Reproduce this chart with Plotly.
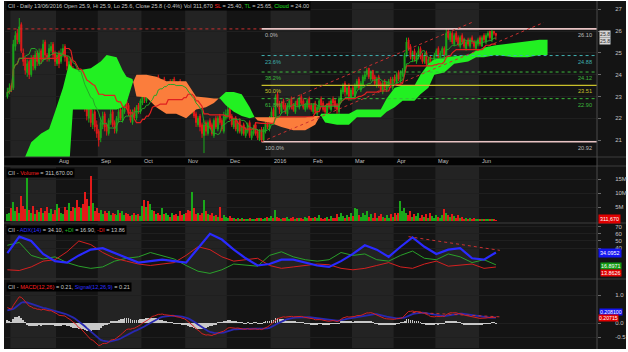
import numpy as np
import pandas as pd
import plotly.graph_objects as go

W, H = 628, 352

# ---------------- data ----------------
holidays = ['2015-12-25', '2016-01-01', '2016-03-25', '2016-03-28']

open_ = [
23.0,23.2,23.5,23.4,25.3,25.9,25.5,26.3,25.0,24.7,
24.1,24.6,24.0,24.8,24.3,25.0,24.5,25.1,24.7,25.5,
24.9,24.7,25.1,25.4,25.0,24.5,25.0,24.6,24.9,25.3,
24.8,24.3,24.7,24.3,23.8,24.2,23.6,23.1,23.7,23.0,
22.7,22.0,22.6,21.7,22.3,21.7,21.4,21.1,21.7,22.2,
21.7,21.3,21.8,22.3,21.8,21.4,21.9,22.4,21.9,22.3,
22.8,22.6,22.3,21.8,22.4,22.0,22.6,22.3,22.7,23.1,
22.8,23.4,23.0,23.4,23.8,23.3,23.9,23.7,23.4,23.8,
23.2,23.4,23.7,23.3,23.8,23.6,23.2,23.7,23.5,23.1,
23.5,23.1,22.9,22.3,22.7,22.2,21.7,22.1,21.7,21.2,
21.8,21.3,21.9,21.7,21.2,22.0,21.5,22.1,21.9,21.4,
22.0,22.1,22.5,22.1,21.6,22.0,21.4,21.9,21.3,21.7,
21.2,21.4,21.8,21.1,21.3,21.7,21.4,21.0,21.5,21.0,
21.4,21.9,21.5,22.0,22.4,22.0,23.1,22.7,22.3,22.8,
22.6,22.2,22.5,22.9,22.6,22.3,22.8,22.5,23.0,22.8,
22.4,22.5,22.9,22.6,22.3,22.7,22.2,22.4,22.9,22.7,
22.5,22.2,22.7,22.4,22.9,22.8,22.6,22.3,22.8,23.2,
23.6,23.1,23.5,22.9,23.4,23.0,23.4,23.8,23.3,23.5,
23.8,24.0,24.3,23.8,24.2,23.9,23.5,23.9,23.6,23.2,
23.7,23.3,23.5,23.8,23.4,23.9,23.6,24.1,23.7,24.0,
24.2,24.9,25.6,25.3,24.7,25.1,24.6,24.8,25.2,24.9,
24.6,25.0,24.4,24.8,24.3,24.5,24.9,25.2,24.7,25.0,
25.2,24.9,26.0,25.6,25.9,25.4,25.9,25.7,25.3,25.8,
25.6,25.2,25.6,25.3,25.7,25.5,25.2,25.4,25.7,25.3,
25.8,25.5,25.8,26.0,25.6,26.0,25.9]

high = [
23.4,23.6,23.6,25.6,26.0,26.1,26.6,26.4,25.2,24.8,
24.7,24.7,24.9,24.9,25.1,25.1,25.2,25.2,25.6,25.6,
25.0,25.4,25.5,25.5,25.1,25.0,25.1,25.2,25.4,25.4,
24.9,24.8,24.8,24.4,24.3,24.3,23.8,23.8,23.8,23.2,
22.8,22.7,22.8,22.4,22.4,21.9,21.5,22.0,22.3,22.3,
21.8,22.0,22.4,22.4,21.9,22.1,22.5,22.5,22.5,22.9,
22.9,22.7,22.4,22.4,22.5,22.6,22.7,22.9,23.2,23.2,
23.5,23.5,23.6,23.8,23.9,23.9,24.0,23.8,23.8,23.9,
23.6,23.7,23.8,23.8,23.9,23.7,23.7,23.8,23.6,23.5,
23.6,23.2,23.0,22.8,22.8,22.3,22.1,22.2,21.8,21.9,
21.9,21.9,22.0,21.8,22.0,22.1,22.1,22.2,22.0,22.3,
22.4,22.6,22.6,22.2,22.0,22.1,21.9,22.0,21.7,21.8,
21.6,21.8,21.9,21.5,21.7,21.8,21.5,21.5,21.6,21.6,
21.9,22.0,22.1,22.5,22.5,23.1,23.2,22.8,22.8,22.9,
22.7,22.7,22.9,23.0,22.7,22.8,22.9,23.0,23.1,22.9,
22.7,22.9,23.0,22.7,22.7,22.8,22.6,22.9,23.0,22.8,
22.6,22.7,22.8,22.9,23.0,22.9,22.7,23.0,23.4,23.6,
23.7,23.5,23.6,23.4,23.5,23.6,23.8,23.9,23.7,24.0,
24.1,24.3,24.3,24.2,24.2,24.0,23.9,24.0,23.7,23.7,
23.8,23.7,23.8,23.9,23.9,24.0,24.1,24.2,24.2,24.3,
25.0,25.7,25.7,25.4,25.1,25.2,25.0,25.3,25.3,25.0,
25.0,25.1,24.8,24.9,24.7,25.0,25.2,25.3,25.1,25.3,
25.3,26.1,26.1,26.0,26.0,25.9,26.0,25.8,25.8,25.9,
25.7,25.6,25.7,25.7,25.8,25.6,25.6,25.7,25.8,25.8,
25.9,25.9,26.0,26.0,26.05,26.0,25.9]

low = [
22.9,23.1,23.2,23.3,25.1,25.4,25.4,25.0,24.4,24.0,
23.9,23.8,23.9,24.2,24.2,24.4,24.4,24.5,24.6,24.7,
24.6,24.6,25.0,24.7,24.4,24.4,24.3,24.5,24.8,24.6,
24.2,24.2,24.0,23.7,23.6,23.3,22.9,23.0,22.7,22.3,
21.9,21.8,21.6,21.5,21.4,21.1,20.7,20.9,21.5,21.4,
21.2,21.2,21.7,21.6,21.3,21.3,21.8,21.9,21.8,22.2,
22.4,22.1,21.8,21.7,22.0,21.9,22.2,22.2,22.6,22.7,
22.7,23.0,22.9,23.3,23.3,23.2,23.5,23.4,23.3,23.2,
23.1,23.3,23.3,23.2,23.4,23.2,23.1,23.3,23.1,23.0,
22.9,22.6,22.3,22.2,22.0,21.6,21.6,21.4,21.1,20.4,
21.2,21.2,21.5,21.2,21.1,21.5,21.4,21.7,21.4,21.3,
21.9,22.0,21.9,21.6,21.5,21.4,21.3,21.3,21.2,21.2,
21.1,21.3,21.1,21.0,21.2,21.2,21.0,20.95,20.92,20.95,
21.3,21.5,21.4,21.9,22.0,21.9,22.5,22.2,22.2,22.4,
22.2,22.1,22.4,22.4,22.3,22.2,22.5,22.4,22.6,22.4,
22.3,22.4,22.4,22.3,22.2,22.2,22.1,22.3,22.5,22.3,
22.1,22.1,22.4,22.3,22.6,22.4,22.2,22.2,22.7,23.1,
23.0,23.0,22.8,22.8,23.0,22.9,23.3,23.3,23.2,23.4,
23.7,23.9,23.8,23.7,23.7,23.5,23.4,23.4,23.2,23.1,
23.3,23.2,23.4,23.4,23.3,23.6,23.5,23.7,23.6,23.9,
24.1,24.8,25.1,24.7,24.6,24.6,24.5,24.7,24.7,24.5,
24.5,24.4,24.3,24.2,24.2,24.4,24.8,24.7,24.6,24.9,
24.8,24.7,25.6,25.5,25.4,25.3,25.5,25.3,25.2,25.4,
25.2,25.1,25.3,25.2,25.4,25.2,25.1,25.3,25.3,25.3,
25.5,25.4,25.7,25.6,25.5,25.8,25.6]

close = [
23.2,23.4,23.3,25.4,25.8,25.6,26.2,25.1,24.6,24.2,
24.5,24.0,24.7,24.4,24.9,24.6,25.0,24.7,25.4,24.9,
24.8,25.2,25.3,24.9,24.6,24.9,24.5,25.0,25.2,24.8,
24.4,24.6,24.2,23.9,24.1,23.5,23.2,23.6,22.9,22.6,
22.1,22.5,21.8,22.2,21.6,21.3,21.0,21.8,22.1,21.6,
21.4,21.9,22.2,21.7,21.5,22.0,22.3,22.0,22.4,22.7,
22.5,22.2,21.9,22.3,22.1,22.5,22.4,22.8,23.0,22.9,
23.3,23.1,23.5,23.7,23.4,23.8,23.6,23.5,23.7,23.3,
23.5,23.6,23.4,23.7,23.5,23.3,23.6,23.4,23.2,23.4,
23.0,22.8,22.4,22.6,22.1,21.8,22.0,21.6,21.3,21.7,
21.4,21.8,21.6,21.3,21.9,21.6,22.0,21.8,21.5,22.1,
22.2,22.4,22.0,21.7,21.9,21.5,21.8,21.4,21.6,21.3,
21.5,21.7,21.2,21.4,21.6,21.3,21.1,21.4,21.0,21.5,
21.8,21.6,22.0,22.3,22.1,23.0,22.6,22.4,22.7,22.5,
22.3,22.6,22.8,22.5,22.4,22.7,22.6,22.9,22.7,22.5,
22.6,22.8,22.5,22.4,22.6,22.3,22.5,22.8,22.6,22.4,
22.3,22.6,22.5,22.8,22.7,22.5,22.4,22.9,23.3,23.5,
23.2,23.4,23.0,23.3,23.1,23.5,23.7,23.4,23.6,23.9,
24.0,24.2,23.9,24.1,23.8,23.6,23.8,23.5,23.3,23.6,
23.4,23.6,23.7,23.5,23.8,23.7,24.0,23.8,24.1,24.2,
24.9,25.5,25.2,24.8,25.0,24.7,24.9,25.1,24.8,24.6,
24.9,24.5,24.7,24.3,24.6,24.9,25.1,24.8,25.0,25.2,
24.9,25.9,25.7,25.9,25.5,25.8,25.6,25.4,25.7,25.5,
25.3,25.5,25.4,25.6,25.5,25.3,25.5,25.6,25.4,25.7,
25.6,25.8,25.9,25.7,26.0,25.9,25.8]

volume_m = [
2.5,3.0,4.5,6.8,3.5,5.0,2.8,9.0,5.5,4.2,
15.4,4.0,3.0,5.5,2.5,4.0,3.2,4.5,2.8,3.5,
5.0,3.0,4.2,2.5,3.8,6.0,4.5,3.0,2.6,5.0,
4.0,6.5,3.5,5.0,4.5,7.5,5.0,4.6,6.0,10.4,
8.0,5.5,16.0,6.5,3.5,4.5,3.0,4.0,2.5,3.5,
2.8,3.5,2.2,3.0,2.5,2.0,4.0,2.8,3.5,2.2,
3.0,2.5,1.8,2.2,3.0,2.0,2.5,1.8,5.5,7.5,
5.0,7.0,6.0,4.0,3.5,2.5,3.0,2.0,4.5,2.5,
3.0,2.2,1.5,3.0,2.0,2.5,1.8,3.5,2.0,2.5,
3.0,4.0,3.5,10.4,4.5,2.5,3.0,2.0,3.0,7.5,
3.5,2.5,2.0,3.0,1.8,2.2,1.5,5.0,1.2,2.0,
1.5,1.2,1.8,1.0,1.2,0.8,1.0,0.7,0.9,0.6,
0.8,0.6,0.9,0.7,0.8,0.5,0.9,1.0,1.2,0.8,
1.0,1.4,1.2,1.8,1.0,4.0,1.5,1.0,0.8,1.2,
0.9,1.3,0.8,1.0,1.5,0.7,1.2,0.9,1.1,0.8,
1.5,1.0,1.8,1.2,0.9,1.4,1.0,2.0,1.2,0.8,
1.0,1.5,0.8,1.8,1.2,1.0,2.5,1.5,3.0,1.8,
1.2,2.0,1.5,2.8,1.8,4.8,4.2,2.0,1.5,3.0,
2.0,3.5,1.5,2.5,1.2,2.8,1.0,1.8,2.5,1.5,
1.2,2.0,1.0,2.5,1.5,3.0,2.0,2.8,7.0,3.5,
4.5,3.0,2.0,3.5,1.5,2.5,1.8,3.0,1.2,2.0,
1.5,2.5,1.0,3.0,1.8,1.2,2.2,1.5,1.0,2.0,
4.3,3.0,2.0,1.5,2.5,1.8,1.2,2.0,1.0,1.5,
0.8,1.2,0.7,1.0,0.6,0.9,0.5,0.8,0.6,0.7,
0.5,0.7,0.4,0.6,0.5,0.4,0.31167]

# Ichimoku cloud (senkou spans) read at sample bars (bar index, can run 26 bars ahead)
cloud_bar = [7,12,17,21,24,28,31,33,36,42,47,50,55,58,60,63,65,70,75,80,85,90,95,100,104,107,
             110,114,118,122,124,126,132,138,144,150,155,158,160,166,172,176,182,188,191,195,
             199,205,208,212,215,220,225,232,236,240,246,255,262,268,272]
span_a = [19.8,20.9,21.3,21.5,22.3,23.4,24.5,24.3,24.2,24.3,24.6,24.9,24.8,24.2,23.9,23.8,23.0,
          22.96,22.5,22.2,22.2,22.0,22.4,22.5,22.7,22.95,23.2,23.2,23.1,22.5,22.1,21.9,21.8,21.6,
          21.45,21.45,21.7,22.2,22.2,22.2,22.2,22.4,22.4,22.4,22.9,23.4,23.5,23.5,24.0,24.5,24.7,
          24.8,24.85,24.9,25.1,25.25,25.35,25.45,25.5,25.6,25.6]
span_b = [19.0,19.0,19.1,19.2,19.3,19.5,19.6,22.4,22.4,22.4,22.4,22.4,22.4,22.5,22.7,23.6,24.0,
          24.0,23.9,23.7,23.7,23.7,23.0,22.95,22.9,22.9,22.6,22.3,22.1,22.0,22.05,22.05,22.05,
          22.05,22.05,22.05,22.1,22.1,21.8,21.7,21.7,22.05,22.05,22.05,22.3,22.5,22.8,22.8,23.1,
          23.4,24.0,24.1,24.5,24.6,24.8,24.8,24.9,24.8,24.8,24.9,24.9]

# ADX(14) panel read at every 6th bar
adx_bar = list(range(0, 247, 6))
adx = [33,56,50,32,22,20,30,38,40,33,26,20,22,24,22,20,40,60,52,38,26,16,18,24,24,20,16,14,
       22,32,44,38,28,42,55,42,32,38,40,26,24,34.1]
plus_di = [44,48,30,25,28,20,15,12,14,22,26,28,34,30,25,16,8,5,10,18,16,15,30,35,28,24,22,24,
           34,30,32,24,22,30,36,26,24,32,28,20,24,16.9]
minus_di = [10,9,14,22,24,35,50,45,34,26,22,18,16,18,20,30,42,38,28,22,24,26,16,12,14,16,18,17,
            12,10,12,16,20,14,12,18,22,15,16,18,12,13.86]

# MACD values shown on the first bar (state carried in from before the window)
macd_first, signal_first = 0.55, 0.45

# Fibonacci retracement
fib_high, fib_low, fib_start_bar = 26.10, 20.92, 128
fib_ratios = [0.0, 0.236, 0.382, 0.5, 0.618, 1.0]
fib_pct = ['0.0%', '23.6%', '38.2%', '50.0%', '61.8%', '100.0%']

# hand-drawn trend lines: (bar0, value0, bar1, value1)
price_channel = [(128, 20.92, 270, 26.39), (135, 22.59, 235, 26.44)]
top_dotted = (0, 26.10, 128, 26.10)
adx_trend = (202, 56.0, 248, 37.0)
macd_trend = (204, 0.38, 248, 0.22)

# ---------------- helpers ----------------
def px(x):
    return x / W

def py(y):
    return 1 - y / H

n = len(close)
dates = pd.bdate_range('2015-06-29', '2016-06-13')
dates = dates[~dates.isin(pd.to_datetime(holidays))][:n]
bars = np.arange(n)

o = np.array(open_[:n]); c = np.array(close[:n])
h = np.maximum.reduce([np.array(high[:n]), o, c])
l = np.minimum.reduce([np.array(low[:n]), o, c])

hs, ls = pd.Series(h), pd.Series(l)
tenkan = (hs.rolling(9, min_periods=1).max() + ls.rolling(9, min_periods=1).min()) / 2
kijun = (hs.rolling(26, min_periods=1).max() + ls.rolling(26, min_periods=1).min()) / 2

# MACD(12,26,9), EMA recursion started from the state shown on the first bar
a12, a26, a9 = 2 / 13, 2 / 27, 2 / 10
e12, e26, sg = c[0], c[0] - macd_first, signal_first
macd, signal = [macd_first], [signal_first]
for v in c[1:]:
    e12 += a12 * (v - e12)
    e26 += a26 * (v - e26)
    m = e12 - e26
    sg += a9 * (m - sg)
    macd.append(m); signal.append(sg)
macd, signal = np.array(macd), np.array(signal)
hist = macd - signal

UP, DN = '#1aa81a', '#e31a1a'
up_mask = c >= o

# month boundaries
month_start = [i for i in range(n) if i == 0 or dates[i].month != dates[i - 1].month]
month_lbl = [('2016' if dates[i].month == 1 else dates[i].strftime('%b')) for i in month_start]

XR = [-1.2, 296.9]
XD = [px(5), px(597)]
panels = {  # name: (ytop px, ybottom px)
    'y': (3, 157), 'y2': (167, 222), 'y3': (224, 278), 'y4': (280, 348)}

fig = go.Figure()

# ---- cloud ----
def segments(xs, a, b):
    out = []
    sx, sa, sb = [xs[0]], [a[0]], [b[0]]
    sign = a[0] >= b[0]
    for i in range(1, len(xs)):
        s = a[i] >= b[i]
        if s != sign:
            d0, d1 = a[i - 1] - b[i - 1], a[i] - b[i]
            t = d0 / (d0 - d1)
            xc = xs[i - 1] + t * (xs[i] - xs[i - 1])
            yc = a[i - 1] + t * (a[i] - a[i - 1])
            sx.append(xc); sa.append(yc); sb.append(yc)
            out.append((sign, sx, sa, sb))
            sx, sa, sb = [xc], [yc], [yc]
            sign = s
        sx.append(xs[i]); sa.append(a[i]); sb.append(b[i])
    out.append((sign, sx, sa, sb))
    return out

for sign, sx, sa, sb in segments(cloud_bar, span_a, span_b):
    fig.add_trace(go.Scatter(x=sx + sx[::-1], y=sa + sb[::-1], fill='toself',
                             fillcolor='#22f022' if sign else '#fb7d3c',
                             line=dict(width=0), mode='lines', hoverinfo='skip',
                             xaxis='x', yaxis='y'))

# ---- fib lines ----
fib_cols = ['#e9c4c4', '#3fb0b0', '#3cb83c', '#c9c02a', '#3cb83c', '#e9c4c4']
fib_dash = ['solid', 'dot', 'dot', 'solid', 'dot', 'solid']
fib_w = [1.6, 1, 1, 1.4, 1, 1.6]
fib_vals = [fib_high - r * (fib_high - fib_low) for r in fib_ratios]
for v, col, d, wd in zip(fib_vals, fib_cols, fib_dash, fib_w):
    fig.add_trace(go.Scatter(x=[fib_start_bar, XR[1]], y=[v, v], mode='lines',
                             line=dict(color=col, width=wd, dash=d), hoverinfo='skip',
                             xaxis='x', yaxis='y'))

# dotted red helper lines
for (x0, y0, x1, y1) in price_channel + [top_dotted]:
    fig.add_trace(go.Scatter(x=[x0, x1], y=[y0, y1], mode='lines',
                             line=dict(color='#c83030', width=1, dash='dot'),
                             hoverinfo='skip', xaxis='x', yaxis='y'))

# ---- tenkan / kijun ----
fig.add_trace(go.Scatter(x=bars, y=kijun, mode='lines', line=dict(color='#e02020', width=1.2),
                         xaxis='x', yaxis='y'))
fig.add_trace(go.Scatter(x=bars, y=tenkan, mode='lines', line=dict(color='#28a428', width=1),
                         xaxis='x', yaxis='y'))

# ---- candles ----
fig.add_trace(go.Candlestick(x=bars, open=o, high=h, low=l, close=c, whiskerwidth=0,
                             increasing=dict(line=dict(color=UP, width=1), fillcolor=UP),
                             decreasing=dict(line=dict(color=DN, width=1), fillcolor=DN),
                             xaxis='x', yaxis='y'))

# ---- volume ----
vcol = [UP if u else DN for u in up_mask]
fig.add_trace(go.Bar(x=bars, y=np.array(volume_m[:n]) * 1e6, marker=dict(color=vcol, line=dict(width=0)),
                     width=0.62, xaxis='x2', yaxis='y2'))

# ---- ADX ----
fig.add_trace(go.Scatter(x=adx_bar, y=plus_di, mode='lines', line=dict(color='#2aa02a', width=1),
                         xaxis='x3', yaxis='y3'))
fig.add_trace(go.Scatter(x=adx_bar, y=minus_di, mode='lines', line=dict(color='#d42020', width=1),
                         xaxis='x3', yaxis='y3'))
fig.add_trace(go.Scatter(x=adx_bar, y=adx, mode='lines', line=dict(color='#2a2aff', width=2.2),
                         xaxis='x3', yaxis='y3'))
x0, y0, x1, y1 = adx_trend
fig.add_trace(go.Scatter(x=[x0, x1], y=[y0, y1], mode='lines',
                         line=dict(color='#c83030', width=1, dash='dot'), xaxis='x3', yaxis='y3'))

# ---- MACD ----
fig.add_trace(go.Bar(x=bars, y=hist, marker=dict(color='#c8c8c8', line=dict(width=0)), width=0.45,
                     xaxis='x4', yaxis='y4'))
fig.add_trace(go.Scatter(x=bars, y=signal, mode='lines', line=dict(color='#2828b0', width=1.8),
                         xaxis='x4', yaxis='y4'))
fig.add_trace(go.Scatter(x=bars, y=macd, mode='lines', line=dict(color='#d42020', width=1),
                         xaxis='x4', yaxis='y4'))
x0, y0, x1, y1 = macd_trend
fig.add_trace(go.Scatter(x=[x0, x1], y=[y0, y1], mode='lines',
                         line=dict(color='#c83030', width=1, dash='dot'), xaxis='x4', yaxis='y4'))

# ---------------- layout ----------------
FONT = 'Liberation Sans, Arial, sans-serif'
TICKF = dict(family=FONT, size=6, color='#c4c4c4')
shapes = []
shapes.append(dict(type='rect', xref='paper', yref='paper', x0=px(4), x1=px(626), y0=py(349), y1=py(1),
                   fillcolor='#141414', line=dict(width=0), layer='below'))
for k, ms in enumerate(month_start):
    if k % 2 == 1:
        me = month_start[k + 1] if k + 1 < len(month_start) else XR[1] + 0.5
        for yname, (yt, yb) in panels.items():
            shapes.append(dict(type='rect', xref='x', yref='paper', x0=ms - 0.5, x1=me - 0.5,
                               y0=py(yb), y1=py(yt), fillcolor='#232323', line=dict(width=0),
                               layer='below'))
shapes.append(dict(type='rect', xref='paper', yref='paper', x0=px(5), x1=px(597), y0=py(166), y1=py(157),
                   fillcolor='#030303', line=dict(width=0), layer='below'))
for yy in [157, 166, 223, 279]:
    shapes.append(dict(type='line', xref='paper', yref='paper', x0=px(4), x1=px(626), y0=py(yy), y1=py(yy),
                       line=dict(color='#3c3c3c', width=1)))
shapes.append(dict(type='line', xref='paper', yref='paper', x0=px(597), x1=px(597), y0=py(349), y1=py(1),
                   line=dict(color='#4a4a4a', width=1)))

ann = []
def lab(x, y, text, color='#c8c8c8', size=5.6, bg=None, xanchor='left', yanchor='middle', pad=1):
    d = dict(xref='paper', yref='paper', x=px(x), y=py(y), text=text, showarrow=False,
             xanchor=xanchor, yanchor=yanchor, font=dict(family=FONT, size=size, color=color))
    if bg:
        d.update(bgcolor=bg, borderpad=pad)
    ann.append(d)

def sp(t, col):
    return f"<span style='color:{col}'>{t}</span>"

lab(6, 5.5, 'CII - Daily 13/06/2016 Open 25.9, Hi 25.9, Lo 25.6, Close 25.8 (-0.4%) Vol 311,670 '
    + sp('SL', '#ff2020') + ' = 25.40, ' + sp('TL', '#20c020') + ' = 25.65, ' + sp('Cloud', '#20e020')
    + ' = 24.00', bg='#000000')
lab(6, 173, 'CII - ' + sp('Volume', '#ff2020') + ' = 311,670.00', bg='#000000')
lab(6, 230, 'CII - ' + sp('ADX(14)', '#3030ff') + ' = 34.10, ' + sp('+DI', '#20c020') + ' = 16.90, '
    + sp('-DI', '#ff2020') + ' = 13.86', bg='#000000')
lab(6, 286.5, 'CII - ' + sp('MACD(12,26)', '#ff2020') + ' = 0.21, ' + sp('Signal(12,26,9)', '#3030ff')
    + ' = 0.21', bg='#000000')

# month labels (the partial first months carry no label)
for ms, t in zip(month_start[2:], month_lbl[2:]):
    ann.append(dict(xref='x', yref='paper', x=ms - 0.5, y=py(161.5), text=t, showarrow=False,
                    xanchor='left', yanchor='middle', xshift=1,
                    font=dict(family=FONT, size=5.6, color='#c0c0c0')))

for v, pct, col in zip(fib_vals, fib_pct, fib_cols):
    tc = '#bdbdbd' if col == '#e9c4c4' else col
    ann.append(dict(xref='x', yref='y', x=fib_start_bar, y=v, text=pct, showarrow=False,
                    xanchor='left', yanchor='top', xshift=1, yshift=-1,
                    font=dict(family=FONT, size=5.6, color=tc)))
    ann.append(dict(xref='paper', yref='y', x=px(594), y=v, text=f'{v:.2f}', showarrow=False,
                    xanchor='right', yanchor='top', yshift=-1,
                    font=dict(family=FONT, size=5.6, color=tc)))

# right-side value tags
lab(598.5, 33.5, '25.8', color='#303030', bg='#d6d6d6', size=5.2, pad=0)
lab(598.5, 41, '25.8', color='#303030', bg='#d6d6d6', size=5.2, pad=0)
lab(598, 219, '311,670', color='#ffffff', bg='#e00000', size=5.4)
lab(598, 253, '34.0952', color='#ffffff', bg='#1515f0', size=5.4)
lab(600, 266, '16.8971', color='#ffffff', bg='#119911', size=5.4, pad=0)
lab(600, 273, '13.8626', color='#ffffff', bg='#e00000', size=5.4, pad=0)
lab(599, 311.5, '0.208100', color='#ffffff', bg='#1515f0', size=5.2, pad=0)
lab(598, 317.8, '0.20715', color='#ffffff', bg='#e00000', size=5.2, pad=0)

def xa(anchor):
    return dict(domain=XD, range=XR, anchor=anchor, showgrid=False, zeroline=False,
                showticklabels=False, ticks='', showline=False, fixedrange=True, matches='x')

def ya(name, rng, tv, tt=None):
    yt, yb = panels[name]
    d = dict(domain=[py(yb), py(yt)], range=rng, side='right', anchor='x' if name == 'y' else 'x' + name[1:],
             showgrid=True, gridcolor='#1f1f1f', zeroline=False, tickvals=tv, tickfont=TICKF,
             ticks='outside', ticklen=3, tickcolor='#6a6a6a', showline=False, ticklabelstandoff=13)
    if tt is not None:
        d['ticktext'] = tt
    return d

fig.update_layout(
    width=W, height=H, margin=dict(l=0, r=0, t=0, b=0),
    paper_bgcolor='#ffffff', plot_bgcolor='#181818', showlegend=False,
    bargap=0, barmode='overlay',
    xaxis=dict(domain=XD, range=XR, anchor='y', showgrid=False, zeroline=False, showticklabels=False,
               rangeslider=dict(visible=False), fixedrange=True),
    xaxis2=xa('y2'), xaxis3=xa('y3'), xaxis4=xa('y4'),
    yaxis=ya('y', [20.22, 27.29], [21, 22, 23, 24, 25, 26, 27]),
    yaxis2=ya('y2', [-0.36e6, 19.3e6], [5e6, 10e6, 15e6], ['5M', '10M', '15M']),
    yaxis3=ya('y3', [-1.4, 73.6], [40, 50, 60, 70]),
    yaxis4=ya('y4', [-0.893, 1.536], [-0.5, 0.0, 1.0], ['-0.5', '0.0', '1.0']),
    shapes=shapes, annotations=ann,
)

fig.write_html('out.html')
